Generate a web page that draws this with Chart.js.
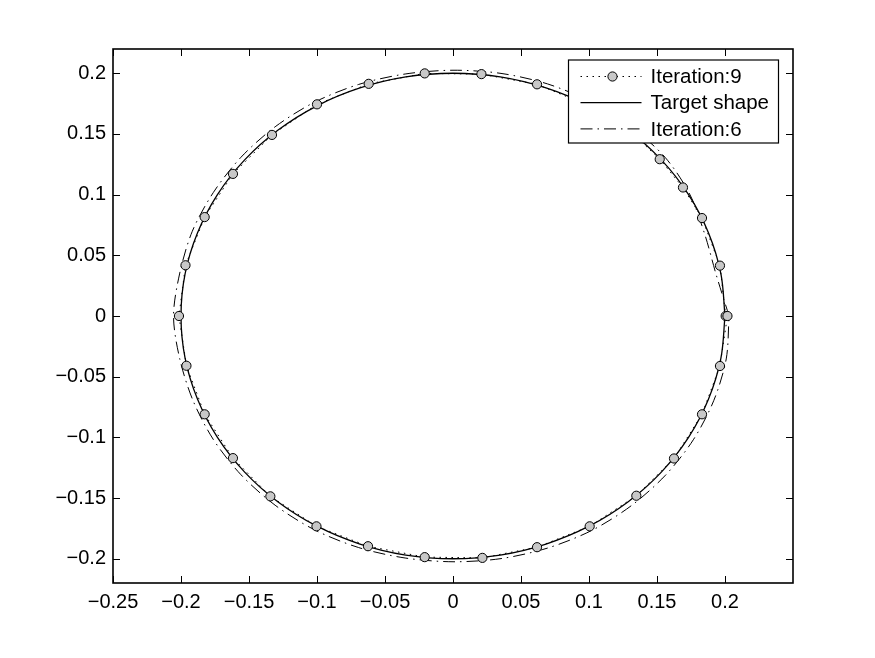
<!DOCTYPE html>
<html>
<head>
<meta charset="utf-8">
<script src="https://cdn.jsdelivr.net/npm/chart.js@4.4.1/dist/chart.umd.min.js"></script>
<style>
  body { margin: 0; background: #fff; }
  canvas { display: block; }
</style>
</head>
<body>
<canvas id="myChart" width="875" height="658"></canvas>
<script>
// tick values
const xTicks = [-0.25, -0.2, -0.15, -0.1, -0.05, 0, 0.05, 0.1, 0.15, 0.2];
const yTicks = [-0.2, -0.15, -0.1, -0.05, 0, 0.05, 0.1, 0.15, 0.2];

const seriesLabels = ['Iteration:9', 'Target shape', 'Iteration:6'];

// Iteration:9 markers (dotted line with circles), counter-clockwise from (0.2, 0)
const iter9X = [0.2005, 0.1963, 0.1831, 0.1691, 0.1520, 0.1338, 0.1000, 0.0618, 0.0209,
  -0.0208, -0.0620, -0.1000, -0.1331, -0.1618, -0.1826, -0.1967, -0.2015,
  -0.1960, -0.1826, -0.1618, -0.1343, -0.1004, -0.0625, -0.0208,
  0.0216, 0.0618, 0.1005, 0.1348, 0.1625, 0.1831, 0.1963, 0.2018];
const iter9Y = [0, 0.0415, 0.0807, 0.1059, 0.1292, 0.1486, 0.1732, 0.1909, 0.1993,
  0.1999, 0.1913, 0.1744, 0.1492, 0.1171, 0.0815, 0.0418, 0,
  -0.0410, -0.0810, -0.1171, -0.1486, -0.1733, -0.1897, -0.1987,
  -0.1993, -0.1905, -0.1733, -0.1481, -0.1174, -0.0810, -0.0412, 0];

// Target shape (solid circle, radius 0.2)
const targetX = [0.2, 0.1970, 0.1879, 0.1732, 0.1532, 0.1286, 0.1, 0.0684, 0.0347,
  0, -0.0347, -0.0684, -0.1, -0.1286, -0.1532, -0.1732, -0.1879, -0.1970,
  -0.2, -0.1970, -0.1879, -0.1732, -0.1532, -0.1286, -0.1, -0.0684, -0.0347,
  0, 0.0347, 0.0684, 0.1, 0.1286, 0.1532, 0.1732, 0.1879, 0.1970, 0.2];
const targetY = [0, 0.0347, 0.0684, 0.1, 0.1286, 0.1532, 0.1732, 0.1879, 0.1970,
  0.2, 0.1970, 0.1879, 0.1732, 0.1532, 0.1286, 0.1, 0.0684, 0.0347,
  0, -0.0347, -0.0684, -0.1, -0.1286, -0.1532, -0.1732, -0.1879, -0.1970,
  -0.2, -0.1970, -0.1879, -0.1732, -0.1532, -0.1286, -0.1, -0.0684, -0.0347, 0];

// Iteration:6 (dash-dot)
const iter6X = [0.2030, 0.1935, 0.1851, 0.1740, 0.1559, 0.1308, 0.1018, 0.0696, 0.0353,
  0, -0.0352, -0.0694, -0.1018, -0.1308, -0.1559, -0.1762, -0.1917, -0.2009,
  -0.2055, -0.2009, -0.1912, -0.1762, -0.1559, -0.1308, -0.1018, -0.0694, -0.0352,
  0, 0.0353, 0.0696, 0.1020, 0.1311, 0.1563, 0.1767, 0.1917, 0.2009, 0.2030];
const iter6Y = [0, 0.0341, 0.0674, 0.1005, 0.1308, 0.1559, 0.1762, 0.1912, 0.1999,
  0.2025, 0.1994, 0.1908, 0.1762, 0.1559, 0.1308, 0.1018, 0.0698, 0.0354,
  0, -0.0354, -0.0696, -0.1018, -0.1308, -0.1559, -0.1762, -0.1908, -0.1994,
  -0.2025, -0.1999, -0.1912, -0.1767, -0.1563, -0.1311, -0.1020, -0.0698, -0.0354, 0];

const FONT = '"Liberation Sans", Arial, Helvetica, sans-serif';

function toPoints(xs, ys) {
  return xs.map((x, i) => ({ x: x, y: ys[i] }));
}

function fmt(v) {
  return String(+v.toFixed(2)).replace('-', '\u2212');
}

// box round the axes plus inward tick marks on all four sides
const frame = {
  id: 'frame',
  afterDatasetsDraw(chart) {
    const { ctx, chartArea: a, scales } = chart;
    const len = 7;
    ctx.save();
    ctx.strokeStyle = '#000';
    ctx.lineWidth = 1;
    ctx.beginPath();
    scales.x.ticks.forEach(t => {
      const px = Math.round(scales.x.getPixelForValue(t.value)) + 0.5;
      ctx.moveTo(px, a.bottom); ctx.lineTo(px, a.bottom - len);
      ctx.moveTo(px, a.top); ctx.lineTo(px, a.top + len);
    });
    scales.y.ticks.forEach(t => {
      const py = Math.round(scales.y.getPixelForValue(t.value)) + 0.5;
      ctx.moveTo(a.left, py); ctx.lineTo(a.left + len, py);
      ctx.moveTo(a.right, py); ctx.lineTo(a.right - len, py);
    });
    ctx.stroke();
    ctx.lineWidth = 1.6;
    ctx.strokeRect(a.left, a.top, a.right - a.left, a.bottom - a.top);
    ctx.restore();
  }
};

// MATLAB-like legend inside the top right corner
const boxLegend = {
  id: 'boxLegend',
  afterDraw(chart) {
    const { ctx, chartArea: a } = chart;
    const w = 210, h = 83;
    const x0 = a.right - 14.5 - w, y0 = a.top + 11;
    ctx.save();
    ctx.fillStyle = '#fff';
    ctx.fillRect(x0, y0, w, h);
    ctx.strokeStyle = '#000';
    ctx.lineWidth = 1.2;
    ctx.strokeRect(x0, y0, w, h);
    chart.data.datasets.forEach((ds, i) => {
      const y = y0 + 16.5 + i * 26.2;
      ctx.beginPath();
      ctx.setLineDash(ds.borderDash || []);
      ctx.lineWidth = ds.borderWidth;
      ctx.strokeStyle = ds.borderColor;
      ctx.moveTo(x0 + 12, y);
      ctx.lineTo(x0 + 73, y);
      ctx.stroke();
      ctx.setLineDash([]);
      if (ds.pointRadius > 0) {
        ctx.beginPath();
        ctx.arc(x0 + 44, y, ds.pointRadius, 0, Math.PI * 2);
        ctx.fillStyle = ds.pointBackgroundColor;
        ctx.fill();
        ctx.lineWidth = ds.pointBorderWidth;
        ctx.strokeStyle = ds.pointBorderColor;
        ctx.stroke();
      }
      ctx.fillStyle = '#000';
      ctx.font = '20.5px ' + FONT;
      ctx.textBaseline = 'middle';
      ctx.fillText(ds.label, x0 + 82, y + 1);
    });
    ctx.restore();
  }
};

new Chart(document.getElementById('myChart'), {
  type: 'scatter',
  data: {
    datasets: [{
      label: seriesLabels[0],
      data: toPoints(iter9X, iter9Y),
      showLine: true,
      borderColor: '#000',
      borderWidth: 1,
      borderDash: [1.5, 4.5],
      tension: 0,
      pointRadius: 4.6,
      pointBackgroundColor: '#c8c8c8',
      pointBorderColor: '#000',
      pointBorderWidth: 1
    }, {
      label: seriesLabels[1],
      data: toPoints(targetX, targetY),
      showLine: true,
      borderColor: '#000',
      borderWidth: 1.3,
      tension: 0.34,
      pointRadius: 0
    }, {
      label: seriesLabels[2],
      data: toPoints(iter6X, iter6Y),
      showLine: true,
      borderColor: '#000',
      borderWidth: 1,
      borderDash: [12, 5, 1.5, 5],
      tension: 0.3,
      pointRadius: 0
    }]
  },
  options: {
    responsive: false,
    animation: false,
    layout: { padding: { left: 0, top: 49, right: 82, bottom: 0 } },
    plugins: {
      legend: { display: false },
      tooltip: { enabled: false }
    },
    scales: {
      x: {
        type: 'linear',
        min: -0.25,
        max: 0.25,
        afterBuildTicks: s => { s.ticks = xTicks.map(v => ({ value: v })); },
        afterFit: s => { s.height = 75; },
        grid: { display: false, drawTicks: false },
        border: { display: false },
        ticks: {
          padding: 7,
          maxRotation: 0,
          autoSkip: false,
          color: '#000',
          font: { size: 20, family: FONT },
          callback: v => fmt(v)
        }
      },
      y: {
        type: 'linear',
        min: -0.22,
        max: 0.22,
        afterBuildTicks: s => { s.ticks = yTicks.map(v => ({ value: v })); },
        afterFit: s => { s.width = 113; },
        grid: { display: false, drawTicks: false },
        border: { display: false },
        ticks: {
          padding: 7,
          autoSkip: false,
          color: '#000',
          font: { size: 20, family: FONT },
          callback: v => fmt(v)
        }
      }
    }
  },
  plugins: [frame, boxLegend]
});
</script>
</body>
</html>
